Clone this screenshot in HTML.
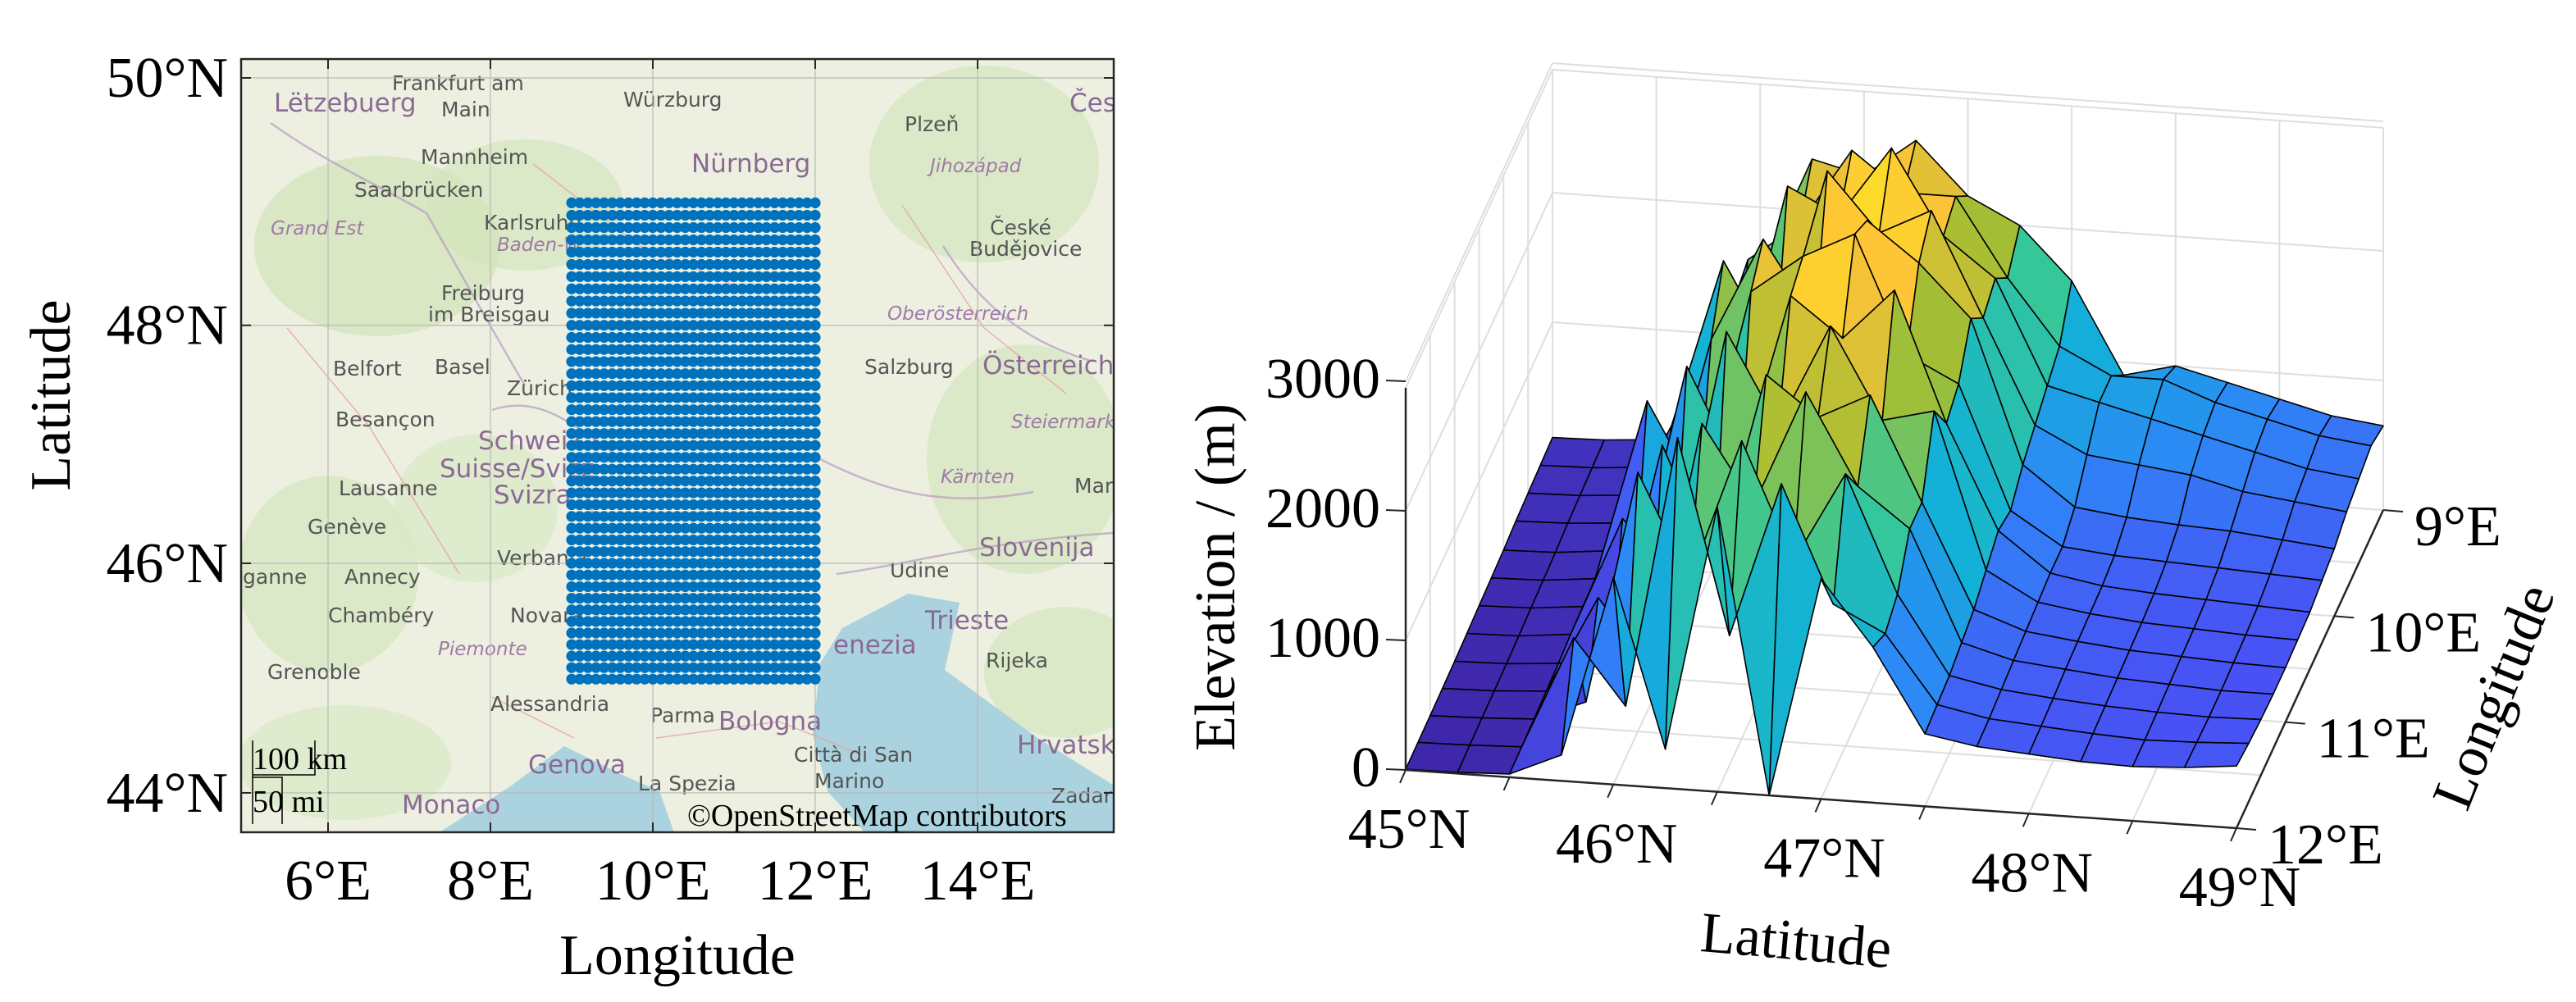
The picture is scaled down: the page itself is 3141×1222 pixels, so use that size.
<!DOCTYPE html>
<html><head><meta charset="utf-8"><style>
html,body{margin:0;padding:0;background:#fff;}
svg{display:block;}
.tk{font-family:"Liberation Serif",serif;font-size:70px;fill:#000;}
.city{font-family:"DejaVu Sans","Liberation Sans",sans-serif;font-size:25px;fill:#555;}
.reg{font-family:"DejaVu Sans","Liberation Sans",sans-serif;font-size:23px;fill:#a07aa8;font-style:italic;}
.ctry{font-family:"DejaVu Sans","Liberation Sans",sans-serif;font-size:31px;fill:#8a6a94;}
</style></head><body>
<svg id="fig" xmlns="http://www.w3.org/2000/svg" width="3141" height="1222" viewBox="0 0 3141 1222">
<g id="map">
<defs><clipPath id="mclip"><rect x="294" y="72" width="1064" height="943"/></clipPath></defs>
<g clip-path="url(#mclip)">
<rect x="294" y="72" width="1064" height="943" fill="#edf0e1"/>
<ellipse cx="460" cy="300" rx="150" ry="110" fill="#d3e5bd" opacity="0.8"/>
<ellipse cx="640" cy="250" rx="120" ry="80" fill="#d3e5bd" opacity="0.7"/>
<ellipse cx="1200" cy="200" rx="140" ry="120" fill="#d3e5bd" opacity="0.7"/>
<ellipse cx="1250" cy="560" rx="120" ry="140" fill="#d3e5bd" opacity="0.7"/>
<ellipse cx="1300" cy="820" rx="100" ry="80" fill="#d3e5bd" opacity="0.7"/>
<ellipse cx="400" cy="700" rx="110" ry="120" fill="#d3e5bd" opacity="0.7"/>
<ellipse cx="580" cy="620" rx="100" ry="90" fill="#d9e8c5" opacity="0.7"/>
<ellipse cx="420" cy="930" rx="130" ry="70" fill="#d9e8c5" opacity="0.7"/>
<polygon fill="#aad3df" points="1027,766 1107,724 1170,735 1152,817 1205,856 1268,902 1357,957 1357,1015 1054,1015 1009,965 991,895 1000,809"/>
<polygon fill="#aad3df" points="536,1015 625,957 688,910 759,945 804,965 822,1015"/>
<path d="M330,150 C400,200 470,230 520,260 M520,260 C560,330 610,420 640,470 M600,500 C660,480 700,520 760,560 M700,580 C740,620 720,700 730,760 M1000,560 C1080,600 1150,620 1260,600 M1150,300 C1200,380 1260,420 1330,440 M1020,700 C1100,690 1200,660 1357,650" fill="none" stroke="#b89ac0" stroke-width="2.5" opacity="0.7"/>
<path d="M350,400 L450,520 L560,700 M650,200 L780,300 L900,350 M1100,250 L1200,400 L1300,480 M800,900 L950,880 L1050,920 M600,850 L700,900" fill="none" stroke="#e8a0a8" stroke-width="1.5" opacity="0.8"/>
<g fill="#666">
<text class="city" x="478" y="110">Frankfurt am</text><text class="city" x="538" y="142">Main</text>
<text class="city" x="760" y="130">Würzburg</text><text class="ctry" x="843" y="210">Nürnberg</text>
<text class="city" x="513" y="200">Mannheim</text><text class="city" x="432" y="240">Saarbrücken</text>
<text class="ctry" x="334" y="136">Lëtzebuerg</text><text class="city" x="1103" y="160">Plzeň</text>
<text class="ctry" x="1304" y="136">Česk</text><text class="reg" x="1134" y="210">Jihozápad</text>
<text class="city" x="1207" y="286">České</text><text class="city" x="1182" y="312">Budějovice</text>
<text class="reg" x="330" y="286">Grand Est</text><text class="reg" x="606" y="306">Baden-W</text>
<text class="city" x="590" y="280">Karlsruhe</text>
<text class="city" x="538" y="366">Freiburg</text><text class="city" x="522" y="392">im Breisgau</text>
<text class="reg" x="1082" y="390">Oberösterreich</text>
<text class="city" x="406" y="458">Belfort</text><text class="city" x="530" y="456">Basel</text>
<text class="city" x="618" y="482">Zürich</text><text class="city" x="409" y="520">Besançon</text>
<text class="ctry" x="583" y="548">Schweiz</text><text class="ctry" x="536" y="582">Suisse/Svizz</text>
<text class="ctry" x="602" y="614">Svizra</text><text class="city" x="413" y="604">Lausanne</text>
<text class="city" x="375" y="651">Genève</text><text class="city" x="1054" y="456">Salzburg</text>
<text class="ctry" x="1198" y="456">Österreich</text><text class="reg" x="1233" y="522">Steiermark</text>
<text class="reg" x="1147" y="589">Kärnten</text><text class="city" x="1310" y="601">Mar</text>
<text class="ctry" x="1194" y="678">Slovenija</text><text class="city" x="1085" y="704">Udine</text>
<text class="city" x="606" y="689">Verbania</text><text class="city" x="420" y="712">Annecy</text>
<text class="city" x="296" y="712">ganne</text><text class="city" x="400" y="759">Chambéry</text>
<text class="city" x="622" y="759">Novara</text><text class="reg" x="534" y="799">Piemonte</text>
<text class="city" x="326" y="828">Grenoble</text><text class="ctry" x="1128" y="767">Trieste</text>
<text class="city" x="1202" y="814">Rijeka</text><text class="ctry" x="1016" y="797">enezia</text>
<text class="city" x="598" y="867">Alessandria</text><text class="city" x="793" y="881">Parma</text>
<text class="ctry" x="876" y="890">Bologna</text><text class="city" x="968" y="929">Città di San</text>
<text class="city" x="993" y="961">Marino</text><text class="ctry" x="1240" y="919">Hrvatska</text>
<text class="ctry" x="644" y="943">Genova</text><text class="city" x="778" y="964">La Spezia</text>
<text class="ctry" x="490" y="992">Monaco</text><text class="city" x="1282" y="979">Zadar</text>
</g>
<g id="mapgrid"></g>
<g id="dots"></g>
</g>
<rect x="294" y="72" width="1064" height="943" fill="none" stroke="#262626" stroke-width="2.5"/>
<g id="mapticks"></g>
<g>
<path d="M308,903 L308,1005 M308,945 L384,945 L384,903 M308,948 L344,948 L344,1005" fill="none" stroke="#000" stroke-width="1.5"/>
<text x="308" y="938" font-family="Liberation Serif,serif" font-size="38">100 km</text>
<text x="308" y="990" font-family="Liberation Serif,serif" font-size="38">50 mi</text>
</g>
<text x="838" y="1007" font-family="Liberation Serif,serif" font-size="38">©OpenStreetMap contributors</text>
<text class="tk" x="826" y="1188" text-anchor="middle">Longitude</text>
<text class="tk" transform="translate(85,482) rotate(-90)" text-anchor="middle">Latitude</text>
</g>
<g id="surfpanel">
<g id="box3d"></g>
<g id="surf"></g>
<g id="axes3d"></g>
<text class="tk" transform="translate(1505,704) rotate(-90)" text-anchor="middle">Elevation / (m)</text>
<text class="tk" transform="translate(2188,1170) rotate(5)" text-anchor="middle">Latitude</text>
<text class="tk" transform="translate(3062,858) rotate(-68)" text-anchor="middle">Longitude</text>
</g>
</svg>
<script>
// ---- map data ----
const mapLonTicks = [6, 8, 10, 12, 14];
const mapLatTicks = [44, 46, 48, 50];
const sampleLatRange = [45, 49];
const sampleLonRange = [9, 12];
const sampleStep = [0.1];
// ---- surface data ----
const surfLats = [45,45.25,45.5,45.75,46,46.25,46.5,46.75,47,47.25,47.5,47.75,48,48.25,48.5,48.75,49];
const surfLons = [9,9.25,9.5,9.75,10,10.25,10.5,10.75,11,11.25,11.5,11.75,12];
const elevation = [
[110,120,150,400,1500,2400,2300,2600,2200,2000,1600,900,1000,900,800,700,650],
[100,110,140,600,1800,2100,2700,2400,2400,1800,1300,1100,1100,950,850,750,700],
[90,100,130,500,1000,2600,2400,2950,2300,2000,1200,1100,1000,900,800,700,650],
[80,90,120,900,2200,1500,2950,2500,2700,1900,1100,900,850,800,700,650,600],
[60,70,110,300,1800,2600,2000,2800,2500,2100,1000,700,650,620,600,560,520],
[50,60,100,1500,800,2400,2700,2900,2000,1800,850,600,560,540,520,500,480],
[40,50,90,300,2000,1200,2600,2300,2700,1700,900,600,530,500,480,460,440],
[30,40,80,1000,600,2500,1800,2600,1900,2000,800,580,520,480,460,440,430],
[20,30,60,150,1800,900,2400,2100,2300,1500,700,560,510,470,450,430,420],
[15,25,50,800,300,2200,1600,2500,1800,1500,650,540,500,460,440,420,420],
[10,20,40,200,2000,1200,2300,1400,2100,1200,600,520,480,450,430,420,430],
[8,15,30,900,400,2500,1000,2200,1300,1100,580,500,470,440,420,430,450],
[5,10,25,200,1600,300,2200,0,1700,1200,560,490,460,430,420,440,480]
];
const zTicks = [0,1000,2000,3000];
const latTicks3d = [45,46,47,48,49];
const lonTicks3d = [9,10,11,12];
const zMax = [2950];

const NS='http://www.w3.org/2000/svg';
function mk(tag, attrs, parent){const e=document.createElementNS(NS,tag);for(const k in attrs)e.setAttribute(k,attrs[k]);parent.appendChild(e);return e;}

function mx(lon){return 400+(lon-6)*99;}
function merc(lat){return Math.log(Math.tan(Math.PI/4+lat*Math.PI/360));}
function my(lat){return 95+(merc(50)-merc(lat))*5670;}
const mg=document.getElementById('mapgrid'), mt=document.getElementById('mapticks');
mapLonTicks.forEach(l=>{
  const x=mx(l);
  const g=mk('line',{x1:x,y1:72,x2:x,y2:1015,stroke:'#b8b8b8','stroke-width':1.2},mg);
  
  mk('line',{x1:x,y1:1015,x2:x,y2:1003,stroke:'#262626','stroke-width':2},mt);
  mk('line',{x1:x,y1:72,x2:x,y2:84,stroke:'#262626','stroke-width':2},mt);
  const t=mk('text',{x:x,y:1097,'text-anchor':'middle','class':'tk'},mt);t.textContent=l+'°E';
  
});
mapLatTicks.forEach(l=>{
  const y=my(l);
  const g=mk('line',{x1:294,y1:y,x2:1358,y2:y,stroke:'#b8b8b8','stroke-width':1.2},mg);
  
  mk('line',{x1:294,y1:y,x2:306,y2:y,stroke:'#262626','stroke-width':2},mt);
  mk('line',{x1:1358,y1:y,x2:1346,y2:y,stroke:'#262626','stroke-width':2},mt);
  const t=mk('text',{x:278,y:y+23,'text-anchor':'end','class':'tk'},mt);t.textContent=l+'°N';
  
});
const dg=document.getElementById('dots');
const st=sampleStep[0];
const nLat=Math.round((sampleLatRange[1]-sampleLatRange[0])/st), nLon=Math.round((sampleLonRange[1]-sampleLonRange[0])/st);
for(let i=0;i<=nLat;i++){const la=sampleLatRange[0]+i*st;const y=my(la);
  for(let j=0;j<=nLon;j++){const lo=sampleLonRange[0]+j*st;
    const c=mk('circle',{cx:mx(lo),cy:y,r:6.6,fill:'#0072bd'},dg);
    
  }}

function P(lat,lon,z){const u=(lat-45)/4,v=(12-lon)/3;return [1714+1013*u+179*v, 939+71*u-388*v-0.158*z];}
const parula=[[62,38,168],[72,82,244],[46,135,247],[18,177,214],[55,200,151],[165,190,50],[254,195,56],[249,251,20]];
function cmap(t){t=Math.max(0,Math.min(1,t))*(parula.length-1);const i=Math.min(parula.length-2,Math.floor(t)),f=t-i;
  const a=parula[i],b=parula[i+1];return 'rgb('+a.map((v,k)=>Math.round(v+(b[k]-v)*f)).join(',')+')';}
const bx=document.getElementById('box3d');
function ln(p,q,col,w,parent,name){const l=mk('line',{x1:p[0],y1:p[1],x2:q[0],y2:q[1],stroke:col,'stroke-width':w},parent);
  return l;}
const gcol='#dedede', zm=zMax[0];
for(let la=45;la<=49.001;la+=0.5){
  ln(P(la,9,0),P(la,9,zm),gcol,2,bx,'back-wall-gridline');
  ln(P(la,9,0),P(la,12,0),gcol,2,bx,'floor-gridline');
}
for(let lo=9;lo<=12.001;lo+=0.5){
  ln(P(45,lo,0),P(45,lo,zm),gcol,2,bx,'side-wall-gridline');
  ln(P(45,lo,0),P(49,lo,0),gcol,2,bx,'floor-gridline');
}
zTicks.concat([zm]).forEach(z=>{
  ln(P(45,9,z),P(49,9,z),gcol,2,bx,'back-wall-z-gridline');
  ln(P(45,9,z),P(45,12,z),gcol,2,bx,'side-wall-z-gridline');
});
const sf=document.getElementById('surf');
const quads=[];
for(let i=0;i<surfLons.length-1;i++)for(let j=0;j<surfLats.length-1;j++){
  const pts=[[i,j],[i,j+1],[i+1,j+1],[i+1,j]];
  const zs=pts.map(p=>elevation[p[0]][p[1]]);
  const la=(surfLats[j]+surfLats[j+1])/2, lo=(surfLons[i]+surfLons[i+1])/2;
  const depth=71*(la-45)/4-388*(12-lo)/3;
  quads.push({pts,zs,depth});
}
quads.sort((a,b)=>a.depth-b.depth);
quads.forEach(q=>{
  const pp=q.pts.map((p,k)=>P(surfLats[p[1]],surfLons[p[0]],q.zs[k]).map(v=>v.toFixed(1)).join(',')).join(' ');
  const zavg=q.zs.reduce((a,b)=>a+b,0)/4;
  const pg=mk('polygon',{points:pp,fill:cmap(zavg/zm),stroke:'#000','stroke-width':1.6,'stroke-linejoin':'round'},sf);
  
});
const ax=document.getElementById('axes3d');
ln(P(45,12,0),P(49,12,0),'#262626',2.5,ax,'latitude-axis-line');
ln(P(49,12,0),P(49,9,0),'#262626',2.5,ax,'longitude-axis-line');
ln(P(45,12,0),P(45,12,zm),'#262626',2.5,ax,'z-axis-line');
for(let la=45;la<=49.001;la+=0.5){const p=P(la,12,0);ln(p,[p[0]-7,p[1]+16],'#262626',2,ax,'latitude-tick');}
latTicks3d.forEach(la=>{const p=P(la,12,0);const t=mk('text',{x:p[0]+4,y:p[1]+95,'text-anchor':'middle','class':'tk'},ax);t.textContent=la+'°N';
  });
lonTicks3d.forEach(lo=>{const p=P(49,lo,0);ln(p,[p[0]+24,p[1]+2],'#262626',2,ax,'longitude-tick');
  const t=mk('text',{x:p[0]+38,y:p[1]+43,'class':'tk'},ax);t.textContent=lo+'°E';
  });
zTicks.forEach(z=>{const p=P(45,12,z);ln(p,[p[0]-24,p[1]-1],'#262626',2,ax,'z-tick');
  const t=mk('text',{x:p[0]-31,y:p[1]+20,'text-anchor':'end','class':'tk'},ax);t.textContent=z;
  });
</script>
</body></html>
